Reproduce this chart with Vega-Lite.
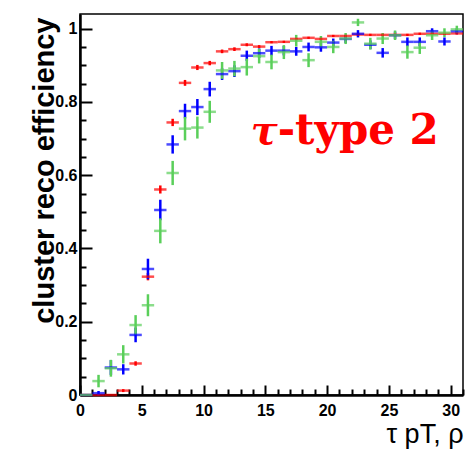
{
  "$schema": "https://vega.github.io/schema/vega-lite/v6.json",
  "width": 383,
  "height": 381,
  "autosize": "none",
  "padding": {"left": 80, "top": 14, "right": 3, "bottom": 56},
  "background": "white",
  "config": {"view": {"stroke": "black", "strokeWidth": 1.5}, "font": "Liberation Sans"},
  "data": {"values": [
    {"s":"red","x":0.5,"y":0,"e":0},{"s":"red","x":1.5,"y":0,"e":0},{"s":"red","x":2.5,"y":0,"e":0},{"s":"red","x":3.5,"y":0.012,"e":0.004},{"s":"red","x":4.5,"y":0.086,"e":0.006},{"s":"red","x":5.5,"y":0.323,"e":0.01},{"s":"red","x":6.5,"y":0.561,"e":0.011},{"s":"red","x":7.5,"y":0.744,"e":0.01},{"s":"red","x":8.5,"y":0.852,"e":0.008},{"s":"red","x":9.5,"y":0.894,"e":0.007},{"s":"red","x":10.5,"y":0.906,"e":0.006},{"s":"red","x":11.5,"y":0.938,"e":0.005},{"s":"red","x":12.5,"y":0.944,"e":0.005},{"s":"red","x":13.5,"y":0.956,"e":0.004},{"s":"red","x":14.5,"y":0.951,"e":0.004},{"s":"red","x":15.5,"y":0.963,"e":0.003},{"s":"red","x":16.5,"y":0.964,"e":0.003},{"s":"red","x":17.5,"y":0.972,"e":0.003},{"s":"red","x":18.5,"y":0.975,"e":0.003},{"s":"red","x":19.5,"y":0.972,"e":0.003},{"s":"red","x":20.5,"y":0.98,"e":0.003},{"s":"red","x":21.5,"y":0.98,"e":0.003},{"s":"red","x":22.5,"y":0.984,"e":0.003},{"s":"red","x":23.5,"y":0.983,"e":0.003},{"s":"red","x":24.5,"y":0.983,"e":0.003},{"s":"red","x":25.5,"y":0.983,"e":0.003},{"s":"red","x":26.5,"y":0.983,"e":0.003},{"s":"red","x":27.5,"y":0.986,"e":0.003},{"s":"red","x":28.5,"y":0.986,"e":0.003},{"s":"red","x":29.5,"y":0.986,"e":0.003},{"s":"red","x":30.5,"y":0.987,"e":0.003},
    {"s":"blue","x":0.5,"y":0,"e":0},{"s":"blue","x":1.5,"y":0.005,"e":0.006},{"s":"blue","x":2.5,"y":0.075,"e":0.02},{"s":"blue","x":3.5,"y":0.07,"e":0.014},{"s":"blue","x":4.5,"y":0.164,"e":0.02},{"s":"blue","x":5.5,"y":0.344,"e":0.028},{"s":"blue","x":6.5,"y":0.505,"e":0.028},{"s":"blue","x":7.5,"y":0.684,"e":0.025},{"s":"blue","x":8.5,"y":0.775,"e":0.02},{"s":"blue","x":9.5,"y":0.786,"e":0.022},{"s":"blue","x":10.5,"y":0.835,"e":0.02},{"s":"blue","x":11.5,"y":0.876,"e":0.016},{"s":"blue","x":12.5,"y":0.884,"e":0.016},{"s":"blue","x":13.5,"y":0.926,"e":0.014},{"s":"blue","x":14.5,"y":0.933,"e":0.013},{"s":"blue","x":15.5,"y":0.94,"e":0.013},{"s":"blue","x":16.5,"y":0.94,"e":0.013},{"s":"blue","x":17.5,"y":0.938,"e":0.012},{"s":"blue","x":18.5,"y":0.95,"e":0.012},{"s":"blue","x":19.5,"y":0.949,"e":0.012},{"s":"blue","x":20.5,"y":0.962,"e":0.011},{"s":"blue","x":21.5,"y":0.972,"e":0.011},{"s":"blue","x":22.5,"y":0.986,"e":0.01},{"s":"blue","x":23.5,"y":0.956,"e":0.012},{"s":"blue","x":24.5,"y":0.934,"e":0.013},{"s":"blue","x":25.5,"y":0.982,"e":0.01},{"s":"blue","x":26.5,"y":0.964,"e":0.012},{"s":"blue","x":27.5,"y":0.964,"e":0.012},{"s":"blue","x":28.5,"y":0.993,"e":0.008},{"s":"blue","x":29.5,"y":0.965,"e":0.011},{"s":"blue","x":30.5,"y":0.993,"e":0.008},
    {"s":"green","x":0.5,"y":0,"e":0},{"s":"green","x":1.5,"y":0.038,"e":0.017},{"s":"green","x":2.5,"y":0.073,"e":0.023},{"s":"green","x":3.5,"y":0.111,"e":0.025},{"s":"green","x":4.5,"y":0.191,"e":0.027},{"s":"green","x":5.5,"y":0.245,"e":0.03},{"s":"green","x":6.5,"y":0.448,"e":0.034},{"s":"green","x":7.5,"y":0.606,"e":0.033},{"s":"green","x":8.5,"y":0.727,"e":0.032},{"s":"green","x":9.5,"y":0.73,"e":0.03},{"s":"green","x":10.5,"y":0.773,"e":0.03},{"s":"green","x":11.5,"y":0.886,"e":0.023},{"s":"green","x":12.5,"y":0.891,"e":0.021},{"s":"green","x":13.5,"y":0.895,"e":0.023},{"s":"green","x":14.5,"y":0.925,"e":0.02},{"s":"green","x":15.5,"y":0.909,"e":0.02},{"s":"green","x":16.5,"y":0.936,"e":0.019},{"s":"green","x":17.5,"y":0.967,"e":0.016},{"s":"green","x":18.5,"y":0.914,"e":0.019},{"s":"green","x":19.5,"y":0.964,"e":0.016},{"s":"green","x":20.5,"y":0.95,"e":0.017},{"s":"green","x":21.5,"y":0.973,"e":0.015},{"s":"green","x":22.5,"y":1.017,"e":0.01},{"s":"green","x":23.5,"y":0.959,"e":0.016},{"s":"green","x":24.5,"y":0.973,"e":0.015},{"s":"green","x":25.5,"y":0.982,"e":0.013},{"s":"green","x":26.5,"y":0.936,"e":0.018},{"s":"green","x":27.5,"y":0.948,"e":0.017},{"s":"green","x":28.5,"y":0.982,"e":0.013},{"s":"green","x":29.5,"y":0.989,"e":0.012},{"s":"green","x":30.5,"y":0.998,"e":0.01}
  ]},
  "resolve": {"axis": {"x": "independent", "y": "independent"}},
  "layer": [
    {
      "mark": {"type": "errorbar", "ticks": false, "thickness": 2.5},
      "encoding": {
        "x": {"field": "x", "type": "quantitative", "scale": {"domain": [0, 31], "nice": false},
          "axis": {"orient": "bottom", "values": [0,5,10,15,20,25,30], "tickSize": -10, "tickWidth": 2, "tickColor": "black", "domainWidth": 2.5, "domainColor": "black", "grid": false,
            "labelFont": "Liberation Sans", "labelFontWeight": "bold", "labelFontSize": 16, "labelColor": "black", "labelPadding": 17, "labelFlush": false, "labelOverlap": false,
            "title": "τ pT, ρ", "titleFont": "Liberation Sans", "titleFontSize": 27, "titleFontWeight": "normal", "titleColor": "black", "titleAnchor": "end", "titleAlign": "right", "titleBaseline": "alphabetic", "titleX": 383, "titleY": 47}},
        "y": {"field": "y", "type": "quantitative", "scale": {"domain": [0, 1.04], "nice": false},
          "axis": {"orient": "left", "values": [0,0.2,0.4,0.6,0.8,1], "labelExpr": "datum.value", "tickSize": -12, "tickWidth": 2, "tickColor": "black", "domainWidth": 2.5, "domainColor": "black", "grid": false,
            "labelFont": "Liberation Sans", "labelFontWeight": "bold", "labelFontSize": 16, "labelColor": "black", "labelPadding": 15, "labelFlush": false, "labelOverlap": false,
            "title": "cluster reco efficiency", "titleFont": "Liberation Sans", "titleFontSize": 29, "titleFontWeight": "bold", "titleColor": "black", "titleAngle": -90, "titleAnchor": "end", "titleAlign": "right", "titleBaseline": "middle", "titleX": -36, "titleY": 3}},
        "yError": {"field": "e"},
        "color": {"field": "s", "type": "nominal", "scale": {"domain": ["red","blue","green"], "range": ["#ff0000","#0000ff","#5acf5a"]}, "legend": null}
      }
    },
    {
      "mark": {"type": "tick", "orient": "horizontal", "size": 12.4, "thickness": 2.5},
      "encoding": {
        "x": {"field": "x", "type": "quantitative", "axis": null},
        "y": {"field": "y", "type": "quantitative", "axis": null},
        "color": {"field": "s", "type": "nominal", "legend": null}
      }
    },
    {
      "mark": {"type": "point", "opacity": 0},
      "encoding": {
        "x": {"field": "x", "type": "quantitative",
          "axis": {"orient": "bottom", "values": [1,2,3,4,6,7,8,9,11,12,13,14,16,17,18,19,21,22,23,24,26,27,28,29,31], "tickSize": -6, "tickWidth": 2, "tickColor": "black", "labels": false, "domain": false, "grid": false, "title": null}},
        "y": {"field": "y", "type": "quantitative",
          "axis": {"orient": "left", "values": [0.05,0.1,0.15,0.25,0.3,0.35,0.45,0.5,0.55,0.65,0.7,0.75,0.85,0.9,0.95], "tickSize": -6, "tickWidth": 2, "tickColor": "black", "labels": false, "domain": false, "grid": false, "title": null}}
      }
    },
    {
      "data": {"values": [{"t": "τ"}]},
      "mark": {"type": "text", "font": "DejaVu Serif", "fontWeight": "bold", "fontStyle": "italic", "fontSize": 40, "color": "#ff0000", "align": "right", "baseline": "alphabetic"},
      "encoding": {
        "x": {"datum": 16.0, "type": "quantitative", "axis": null},
        "y": {"datum": 0.686, "type": "quantitative", "axis": null},
        "text": {"field": "t"}
      }
    },
    {
      "data": {"values": [{"t": "-type 2"}]},
      "mark": {"type": "text", "font": "DejaVu Serif", "fontWeight": "bold", "fontSize": 42, "color": "#ff0000", "align": "left", "baseline": "alphabetic"},
      "encoding": {
        "x": {"datum": 16.0, "type": "quantitative", "axis": null},
        "y": {"datum": 0.686, "type": "quantitative", "axis": null},
        "text": {"field": "t"}
      }
    }
  ]
}
